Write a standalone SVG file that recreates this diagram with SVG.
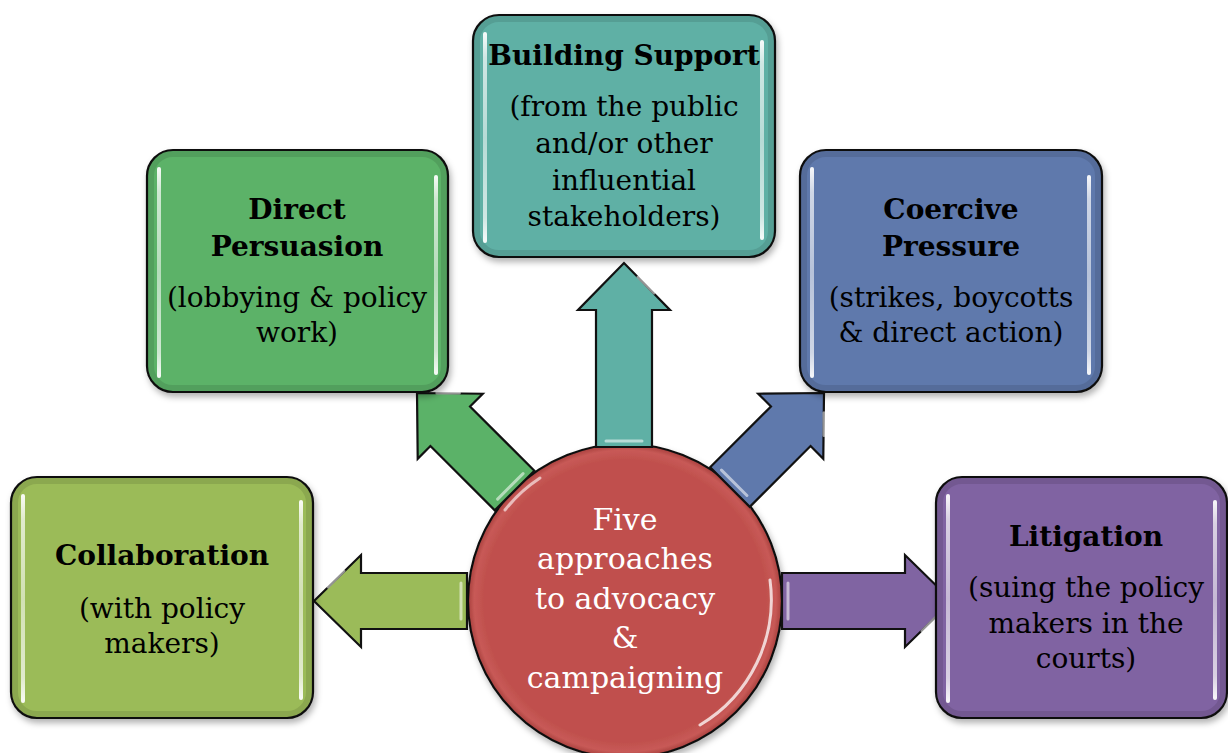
<svg xmlns="http://www.w3.org/2000/svg" width="1228" height="753" viewBox="0 0 1228 753">
<defs>
<style>
.box{stroke:#111;stroke-width:2.2}
.arrow{stroke:#111;stroke-width:2.2;stroke-linejoin:miter}
.t{font-family:"DejaVu Serif","Liberation Serif",serif;font-size:28px;fill:#000;text-anchor:middle}
.b{font-weight:bold}
.ct{font-family:"DejaVu Serif","Liberation Serif",serif;font-size:30px;fill:#fff;text-anchor:middle}
.hi{fill:url(#vHi)}
.edge{fill:none;stroke:#000;stroke-opacity:0.1;stroke-width:6}
.ahi{fill:none;stroke:#fff;stroke-opacity:0.55;stroke-width:3;stroke-linecap:round}
</style>
<linearGradient id="vHi" x1="0" y1="0" x2="0" y2="1">
<stop offset="0" stop-color="#fff" stop-opacity="0.95"/>
<stop offset="0.12" stop-color="#fff" stop-opacity="0.7"/>
<stop offset="0.5" stop-color="#fff" stop-opacity="0.55"/>
<stop offset="0.88" stop-color="#fff" stop-opacity="0.7"/>
<stop offset="1" stop-color="#fff" stop-opacity="0.95"/>
</linearGradient>
<radialGradient id="circFill" cx="0.5" cy="0.5" r="0.5">
<stop offset="0.9" stop-color="#C0504D"/>
<stop offset="0.96" stop-color="#c85a57"/>
<stop offset="1" stop-color="#a8403d"/>
</radialGradient>
<filter id="sh" x="-10%" y="-10%" width="125%" height="125%">
<feDropShadow dx="2" dy="4" stdDeviation="3" flood-color="#000" flood-opacity="0.3"/>
</filter>
</defs>
<rect width="1228" height="753" fill="#fff"/>

<g id="center">
<circle cx="625" cy="601" r="157" fill="url(#circFill)" stroke="#111" stroke-width="2.2" filter="url(#sh)"/>
<path d="M 505,510 A 149 149 0 0 1 540,478" fill="none" stroke="#fff" stroke-opacity="0.6" stroke-width="3" stroke-linecap="round"/>
<path d="M 770,580 A 146 146 0 0 1 700,725" fill="none" stroke="#fff" stroke-opacity="0.75" stroke-width="3" stroke-linecap="round"/>
<text class="ct" x="625" y="530">Five</text>
<text class="ct" x="625" y="569">approaches</text>
<text class="ct" x="625" y="609">to advocacy</text>
<text class="ct" x="625" y="648">&amp;</text>
<text class="ct" x="625" y="688">campaigning</text>
</g>

<g id="connectors">
<g id="arrow-up" transform="translate(624,263) rotate(-90)">
<polygon class="arrow" fill="#5FB0A5" points="0,0 -47,-46 -47,-28 -184,-28 -184,28 -47,28 -47,46"/>
<path class="ahi" d="M -14,14 L -30,30 M -178,-18 L -178,18"/>
</g>
<g id="arrow-left" transform="translate(314,601) rotate(180)">
<polygon class="arrow" fill="#9BBB59" points="0,0 -47,-46 -47,-28 -153,-28 -153,28 -47,28 -47,46"/>
<path class="ahi" d="M -14,14 L -30,30 M -147,-18 L -147,18"/>
</g>
<g id="arrow-right" transform="translate(952,601)">
<polygon class="arrow" fill="#8064A2" points="0,0 -47,-46 -47,-28 -170,-28 -170,28 -47,28 -47,46"/>
<path class="ahi" d="M -14,14 L -30,30 M -164,-18 L -164,18"/>
</g>
<g id="arrow-nw" transform="translate(417,393) rotate(225)">
<polygon class="arrow" fill="#5BB268" points="0,0 -47,-46 -47,-28 -138,-28 -138,28 -47,28 -47,46"/>
<path class="ahi" d="M -14,14 L -30,30 M -132,-18 L -132,18"/>
</g>
<g id="arrow-ne" transform="translate(824,393) rotate(-45)">
<polygon class="arrow" fill="#5F79AC" points="0,0 -47,-46 -47,-28 -133,-28 -133,28 -47,28 -47,46"/>
<path class="ahi" d="M -14,14 L -30,30 M -127,-18 L -127,18"/>
</g>
</g>

<g id="collaboration">
<rect class="box" x="11" y="477" width="302" height="241" rx="26" fill="#9BBB59" filter="url(#sh)"/>
<rect class="edge" x="15" y="481" width="294" height="233" rx="22"/>
<rect class="hi" x="21" y="494" width="4" height="209" rx="2"/>
<rect class="hi" x="299" y="500" width="4" height="200" rx="2"/>
<text class="t b" x="162" y="565">Collaboration</text>
<text class="t" x="162" y="618">(with policy</text>
<text class="t" x="162" y="653">makers)</text>
</g>

<g id="direct-persuasion">
<rect class="box" x="147" y="150" width="301" height="242" rx="26" fill="#5BB268" filter="url(#sh)"/>
<rect class="edge" x="151" y="154" width="293" height="234" rx="22"/>
<rect class="hi" x="157" y="167" width="4" height="211" rx="2"/>
<rect class="hi" x="434" y="175" width="4" height="200" rx="2"/>
<text class="t b" x="297" y="219">Direct</text>
<text class="t b" x="297" y="256">Persuasion</text>
<text class="t" x="297" y="307">(lobbying &amp; policy</text>
<text class="t" x="297" y="342">work)</text>
</g>

<g id="building-support">
<rect class="box" x="473" y="15" width="302" height="242" rx="26" fill="#5FB0A5" filter="url(#sh)"/>
<rect class="edge" x="477" y="19" width="294" height="234" rx="22"/>
<rect class="hi" x="483" y="32" width="4" height="211" rx="2"/>
<rect class="hi" x="760" y="40" width="4" height="200" rx="2"/>
<text class="t b" x="624" y="65">Building Support</text>
<text class="t" x="624" y="116">(from the public</text>
<text class="t" x="624" y="153">and/or other</text>
<text class="t" x="624" y="190">influential</text>
<text class="t" x="624" y="226">stakeholders)</text>
</g>

<g id="coercive-pressure">
<rect class="box" x="800" y="150" width="302" height="242" rx="26" fill="#5F79AC" filter="url(#sh)"/>
<rect class="edge" x="804" y="154" width="294" height="234" rx="22"/>
<rect class="hi" x="810" y="167" width="4" height="211" rx="2"/>
<rect class="hi" x="1087" y="175" width="4" height="200" rx="2"/>
<text class="t b" x="951" y="219">Coercive</text>
<text class="t b" x="951" y="256">Pressure</text>
<text class="t" x="951" y="307">(strikes, boycotts</text>
<text class="t" x="951" y="342">&amp; direct action)</text>
</g>

<g id="litigation">
<rect class="box" x="936" y="477" width="291" height="241" rx="26" fill="#8064A2" filter="url(#sh)"/>
<rect class="edge" x="940" y="481" width="283" height="233" rx="22"/>
<rect class="hi" x="946" y="494" width="4" height="209" rx="2"/>
<rect class="hi" x="1213" y="500" width="4" height="200" rx="2"/>
<text class="t b" x="1086" y="546">Litigation</text>
<text class="t" x="1086" y="597">(suing the policy</text>
<text class="t" x="1086" y="633">makers in the</text>
<text class="t" x="1086" y="668">courts)</text>
</g>
</svg>
